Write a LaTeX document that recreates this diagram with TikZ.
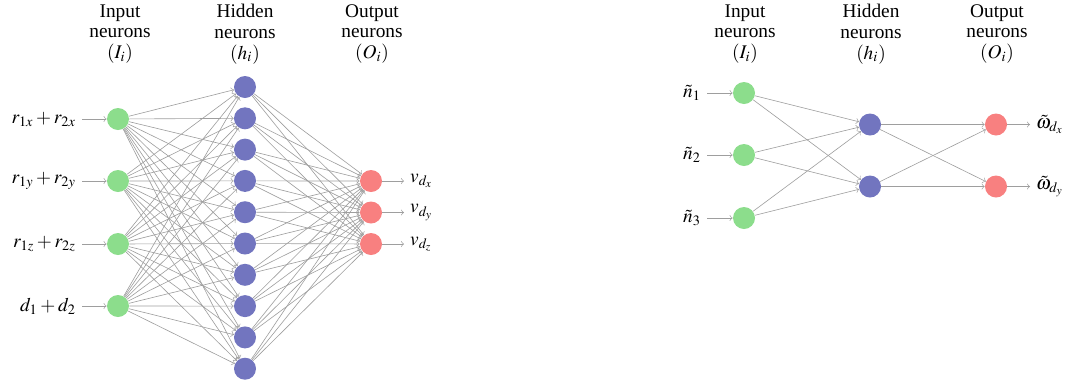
\documentclass[tikz,border=0pt]{standalone}
\usepackage{mathptmx}
\usepackage{fontspec}
\setmainfont{Liberation Serif}
\usepackage{tikz}

\definecolor{ingreen}{RGB}{140,221,140}
\definecolor{hidblue}{RGB}{114,117,191}
\definecolor{outred}{RGB}{248,128,128}

\tikzset{
    neuron/.style={circle, minimum size=0.44cm, inner sep=0pt},
    inneuron/.style={neuron, fill=ingreen},
    hidneuron/.style={neuron, fill=hidblue},
    outneuron/.style={neuron, fill=outred},
    header/.style={align=center},
    edge/.style={->, black!38, line width=0.35pt}
}

\begin{document}
\begin{tikzpicture}[x=0.02cm, y=-0.02cm, >=to, font=\fontsize{11}{11.8}\selectfont]
        \useasboundingbox (0,0) rectangle (1072,390);

        % left network
        \node[header] (LIh) at (120,34) {Input\\neurons\\$(I_i)$};
        \node[header] (LHh) at (245,34) {Hidden\\neurons\\$(h_i)$};
        \node[header] (LOh) at (372,34) {Output\\neurons\\$(O_i)$};

        \foreach \i/\y/\lab in {1/119/{r_{1x}+r_{2x}},2/181/{r_{1y}+r_{2y}},3/244/{r_{1z}+r_{2z}},4/306/{d_1+d_2}}
        {
            \node[inneuron] (LI\i) at (118,\y) {};
            \node[anchor=east] (LIl\i) at (82,\y) {$\lab$};
            \draw[edge] (LIl\i) -- (LI\i);
        }
        \foreach \i in {1,...,10}
            \node[hidneuron] (LH\i) at (245,{87+31.3*(\i-1)}) {};
        \foreach \i/\y/\lab in {1/181/x,2/212.5/y,3/244/z}
        {
            \node[outneuron] (LO\i) at (371,\y) {};
            \node[anchor=west] (LOl\i) at (404,\y) {$v_{d_\lab}$};
            \draw[edge] (LO\i) -- (LOl\i);
        }
        \foreach \i in {1,...,4}
            \foreach \j in {1,...,10}
                \draw[edge] (LI\i) -- (LH\j);
        \foreach \j in {1,...,10}
            \foreach \k in {1,2,3}
                \draw[edge] (LH\j) -- (LO\k);

        % right network
        \node[header] (RIh) at (745,34) {Input\\neurons\\$(I_i)$};
        \node[header] (RHh) at (871,34) {Hidden\\neurons\\$(h_i)$};
        \node[header] (ROh) at (997,34) {Output\\neurons\\$(O_i)$};

        \foreach \i/\y in {1/93,2/155,3/218}
        {
            \node[inneuron] (RI\i) at (744,\y) {};
            \node[anchor=east] (RIl\i) at (707,\y) {$\tilde{n}_\i$};
            \draw[edge] (RIl\i) -- (RI\i);
        }
        \foreach \i/\y in {1/124.5,2/186.5}
            \node[hidneuron] (RH\i) at (870,\y) {};
        \foreach \i/\y/\lab in {1/124.5/x,2/186.5/y}
        {
            \node[outneuron] (RO\i) at (996,\y) {};
            \node[anchor=west] (ROl\i) at (1030,\y) {$\tilde{\omega}_{d_\lab}$};
            \draw[edge] (RO\i) -- (ROl\i);
        }
        \foreach \i in {1,2,3}
            \foreach \j in {1,2}
                \draw[edge] (RI\i) -- (RH\j);
        \foreach \j in {1,2}
            \foreach \k in {1,2}
                \draw[edge] (RH\j) -- (RO\k);
    \end{tikzpicture}
\end{document}
